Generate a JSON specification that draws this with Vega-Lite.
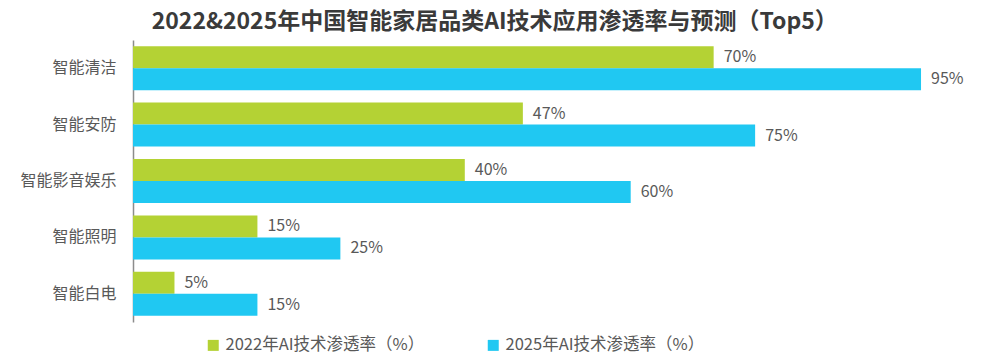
{
  "$schema": "https://vega.github.io/schema/vega-lite/v6.json",
  "autosize": "none",
  "width": 829.5,
  "height": 282,
  "padding": {"left": 133, "top": 40, "right": 37.5, "bottom": 32},
  "background": "white",
  "config": {"view": {"stroke": null}, "font": "Noto Sans CJK SC"},
  "title": {
    "text": "2022&2025年中国智能家居品类AI技术应用渗透率与预测（Top5）",
    "fontSize": 23,
    "fontWeight": "bold",
    "color": "#3a3a3a",
    "anchor": "middle",
    "dx": -53,
    "offset": 6,
    "font": "Noto Sans CJK SC"
  },
  "data": {
    "values": [
      {"category": "智能清洁", "series": "2022年AI技术渗透率（%）", "value": 0.70},
      {"category": "智能清洁", "series": "2025年AI技术渗透率（%）", "value": 0.95},
      {"category": "智能安防", "series": "2022年AI技术渗透率（%）", "value": 0.47},
      {"category": "智能安防", "series": "2025年AI技术渗透率（%）", "value": 0.75},
      {"category": "智能影音娱乐", "series": "2022年AI技术渗透率（%）", "value": 0.40},
      {"category": "智能影音娱乐", "series": "2025年AI技术渗透率（%）", "value": 0.60},
      {"category": "智能照明", "series": "2022年AI技术渗透率（%）", "value": 0.15},
      {"category": "智能照明", "series": "2025年AI技术渗透率（%）", "value": 0.25},
      {"category": "智能白电", "series": "2022年AI技术渗透率（%）", "value": 0.05},
      {"category": "智能白电", "series": "2025年AI技术渗透率（%）", "value": 0.15}
    ]
  },
  "encoding": {
    "y": {
      "field": "category",
      "type": "nominal",
      "sort": ["智能清洁", "智能安防", "智能影音娱乐", "智能照明", "智能白电"],
      "scale": {"paddingInner": 0.22, "paddingOuter": 0.11},
      "axis": {
        "title": null,
        "ticks": false,
        "domainColor": "#8c8c8c",
        "domainWidth": 1.5,
        "labelFontSize": 16,
        "labelColor": "#595959",
        "labelPadding": 17,
        "labelFont": "Noto Sans CJK SC"
      }
    },
    "yOffset": {
      "field": "series",
      "type": "nominal",
      "sort": ["2022年AI技术渗透率（%）", "2025年AI技术渗透率（%）"]
    },
    "x": {
      "field": "value",
      "type": "quantitative",
      "scale": {"domain": [0, 1], "nice": false},
      "axis": null
    }
  },
  "layer": [
    {
      "mark": {"type": "bar"},
      "encoding": {
        "color": {
          "field": "series",
          "type": "nominal",
          "sort": ["2022年AI技术渗透率（%）", "2025年AI技术渗透率（%）"],
          "scale": {"range": ["#B4D234", "#20C8F2"]},
          "legend": {
            "title": null,
            "orient": "none",
            "direction": "horizontal",
            "legendX": 72,
            "legendY": 297,
            "symbolType": "square",
            "symbolSize": 121,
            "symbolStrokeWidth": 0,
            "labelFontSize": 16.5,
            "labelColor": "#595959",
            "labelOffset": 4,
            "labelLimit": 400,
            "columnPadding": 60,
            "labelFont": "Noto Sans CJK SC"
          }
        }
      }
    },
    {
      "mark": {"type": "text", "align": "left", "baseline": "middle", "dx": 10, "fontSize": 16, "color": "#595959", "font": "Noto Sans CJK SC"},
      "encoding": {
        "text": {"field": "value", "type": "quantitative", "format": ".0%"},
        "detail": {"field": "series"}
      }
    }
  ]
}
